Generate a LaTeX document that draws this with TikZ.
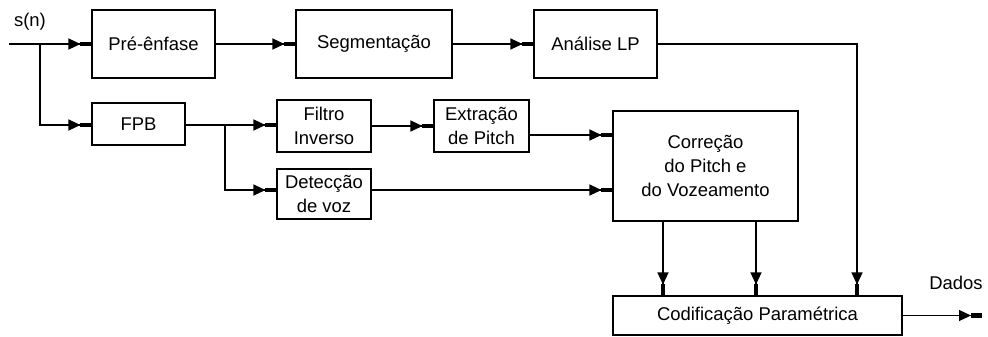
\documentclass[tikz,border=0pt]{standalone}
\usepackage{fontspec}
\setmainfont{Liberation Sans}
\usepackage{tikz}
\usetikzlibrary{arrows.meta,positioning,calc}

\begin{document}
\begin{tikzpicture}[x=0.02cm, y=-0.02cm, line width=0.6pt,
  every node/.style={font=\fontsize{10.5}{13.8}\selectfont},
  blk/.style={draw, rectangle, align=center, inner sep=2pt},
  arr/.style={-{Triangle[length=2.4mm,width=2.2mm]Rectangle[length=2.2mm,width=0.9mm]}}]
\useasboundingbox (0,0) rectangle (988,336);
% Top row
\node[blk, minimum width=123*0.02cm, minimum height=68*0.02cm] (pre) at (153.5,44) {Pré-ênfase};
\node[blk, minimum width=156*0.02cm, minimum height=68*0.02cm] (seg) at (374,44) {Segmentação};
\node[blk, minimum width=123*0.02cm, minimum height=68*0.02cm] (lp) at (595.5,44) {Análise LP};
% Pitch and voicing
\node[blk, minimum width=93*0.02cm, minimum height=42*0.02cm] (fpb) at (138.5,124) {FPB};
\node[blk, minimum width=94*0.02cm, minimum height=52*0.02cm] (filt) at (324,126) {Filtro\\Inverso};
\node[blk, minimum width=95*0.02cm, minimum height=52*0.02cm] (extr) at (481.5,126) {Extração\\de Pitch};
\node[blk, minimum width=94*0.02cm, minimum height=50*0.02cm] (detv) at (324,194) {Detecção\\de voz};
\node[blk, minimum width=185*0.02cm, minimum height=110*0.02cm] (corr) at (705.5,166) {Correção\\do Pitch e\\do Vozeamento};
\node[blk, minimum width=289*0.02cm, minimum height=39*0.02cm] (cod) at (757.5,315.5) {Codificação Paramétrica};
% Labels
\node (sn) at (30,22) {s(n)};
\node (dados) at (956,283) {Dados};
\coordinate (in) at (9,44);
\coordinate (jin) at (40,44);
\coordinate (jfpb) at (225,125);
\coordinate (out) at (982,315.5);
% Connections
\draw[arr] (in) -- (pre);
\draw[arr] (pre) -- (seg);
\draw[arr] (seg) -- (lp);
\draw[arr] (jin) |- (fpb.west |- 0,125);
\draw (fpb.east |- jfpb) -- (jfpb);
\draw[arr] (jfpb) -- (filt.west |- jfpb);
\draw[arr] (jfpb) |- (detv.west |- 0,190);
\draw[arr] (filt) -- (extr);
\draw[arr] (extr.east |- 0,135) -- (corr.west |- 0,135);
\draw[arr] (detv.east |- 0,190) -- (corr.west |- 0,190);
\draw[arr] (lp.east) -| (cod.north -| 857,0);
\draw[arr] (corr.south -| 663,0) -- (cod.north -| 663,0);
\draw[arr] (corr.south -| 756,0) -- (cod.north -| 756,0);
\draw[arr] (cod) -- (out);
\end{tikzpicture}
\end{document}
